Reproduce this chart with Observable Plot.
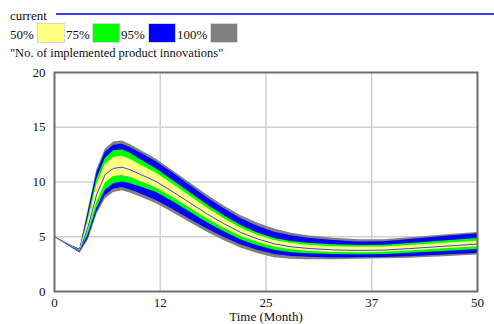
<!DOCTYPE html>
<html>
<head>
<meta charset="utf-8">
<script src="https://cdn.jsdelivr.net/npm/d3@7"></script>
<script src="https://cdn.jsdelivr.net/npm/@observablehq/plot@0.6"></script>
<style>
  html, body { margin: 0; padding: 0; background: #fff; }
  #wrap { position: relative; width: 494px; height: 324px; overflow: hidden; font-family: "Liberation Serif", serif; font-size: 13px; color: #111; }
  .t { position: absolute; white-space: nowrap; line-height: normal; }
  .sw { position: absolute; top: 23px; width: 26px; height: 18px; border: 1px solid #d8d8d8; }
  #chart { position: absolute; left: 0; top: 0; }
  #chart svg text { font-family: "Liberation Serif", serif; }
</style>
</head>
<body>
<div id="wrap">
  <div id="chart"></div>
  <div class="t" style="left:10px; top:8px;">current</div>
  <div style="position:absolute; left:56px; top:13px; width:438px; height:2px; background:#3c3cff;"></div>
  <div class="t" style="left:10px; top:27px;">50%</div>
  <div class="sw" style="left:37px; background:#ffff80;"></div>
  <div class="t" style="left:66px; top:27px;">75%</div>
  <div class="sw" style="left:92px; background:#00ff00;"></div>
  <div class="t" style="left:121px; top:27px;">95%</div>
  <div class="sw" style="left:148px; background:#0000ff;"></div>
  <div class="t" style="left:177px; top:27px;">100%</div>
  <div class="sw" style="left:210px; background:#808080;"></div>
  <div class="t" style="left:10px; top:46px; font-size:12.5px;">"No. of implemented product innovations"</div>
</div>
<script>
// Time points (months)
const months  = [0, 1, 2, 3, 4, 5, 6, 7, 8, 9, 10, 12, 14, 16, 18, 20, 22, 24, 26, 28, 30, 33, 36, 39, 42, 46, 50];
// 100% band (gray)
const grayTop = [5.00, 4.60, 4.20, 3.88, 7.50, 11.10, 13.00, 13.65, 13.75, 13.40, 12.97, 12.10, 11.03, 9.93, 8.84, 7.84, 6.94, 6.25, 5.71, 5.33, 5.09, 4.86, 4.72, 4.73, 4.90, 5.15, 5.38];
const grayBot = [5.00, 4.50, 4.00, 3.52, 4.70, 7.00, 8.45, 9.05, 9.20, 8.98, 8.67, 8.03, 7.20, 6.30, 5.43, 4.65, 3.97, 3.47, 3.09, 2.94, 2.91, 2.90, 2.95, 2.98, 3.04, 3.18, 3.33];
// 95% band (blue)
const blueTop = [5.00, 4.59, 4.18, 3.84, 7.25, 10.80, 12.70, 13.35, 13.45, 13.13, 12.72, 11.88, 10.82, 9.70, 8.59, 7.58, 6.66, 5.95, 5.42, 5.08, 4.86, 4.65, 4.52, 4.55, 4.75, 5.02, 5.28];
const blueBot = [5.00, 4.51, 4.02, 3.56, 4.90, 7.25, 8.75, 9.35, 9.50, 9.28, 8.97, 8.33, 7.50, 6.60, 5.72, 4.95, 4.28, 3.77, 3.38, 3.19, 3.12, 3.07, 3.08, 3.11, 3.18, 3.33, 3.48];
// 75% band (green)
const greenTop = [5.00, 4.58, 4.16, 3.79, 6.85, 10.25, 12.15, 12.85, 12.95, 12.60, 12.13, 11.20, 10.13, 9.03, 7.94, 6.94, 6.04, 5.35, 4.85, 4.57, 4.41, 4.27, 4.20, 4.23, 4.39, 4.62, 4.83];
const greenBot = [5.00, 4.52, 4.04, 3.61, 5.20, 7.60, 9.25, 9.85, 10.00, 9.85, 9.60, 9.06, 8.19, 7.25, 6.30, 5.47, 4.73, 4.18, 3.77, 3.55, 3.45, 3.37, 3.36, 3.39, 3.49, 3.66, 3.83];
// 50% band (yellow)
const yellowTop = [5.00, 4.57, 4.13, 3.75, 6.50, 9.75, 11.60, 12.25, 12.35, 12.05, 11.63, 10.82, 9.80, 8.72, 7.65, 6.67, 5.80, 5.13, 4.65, 4.38, 4.22, 4.09, 4.03, 4.06, 4.20, 4.40, 4.60];
const yellowBot = [5.00, 4.53, 4.07, 3.65, 5.55, 8.15, 9.90, 10.50, 10.60, 10.40, 10.10, 9.48, 8.58, 7.62, 6.66, 5.80, 5.04, 4.49, 4.06, 3.81, 3.68, 3.57, 3.55, 3.58, 3.70, 3.90, 4.08];
// "current" run
const current = [5.00, 4.55, 4.10, 3.70, 6.00, 8.90, 10.70, 11.25, 11.35, 11.10, 10.75, 10.05, 9.10, 8.10, 7.10, 6.20, 5.40, 4.80, 4.35, 4.08, 3.93, 3.80, 3.75, 3.78, 3.92, 4.13, 4.33];

// Axis ticks and labels
const xTicks = [0, 12.5, 25, 37.5, 50];
const xLabels = ["0", "12", "25", "37", "50"];
const yTicks = [0, 5, 10, 15, 20];

const rows = months.map((t, i) => ({
  t,
  gT: grayTop[i], gB: grayBot[i],
  bT: blueTop[i], bB: blueBot[i],
  nT: greenTop[i], nB: greenBot[i],
  yT: yellowTop[i], yB: yellowBot[i],
  c: current[i]
}));

const curve = "linear";
const serif = "'Liberation Serif', serif";
const chart = Plot.plot({
  width: 494,
  height: 324,
  marginLeft: 54,
  marginRight: 17,
  marginTop: 72,
  marginBottom: 33,
  x: {domain: [0, 50]},
  y: {domain: [0, 20]},
  style: {fontFamily: serif, fontSize: "13px", color: "#111", background: "transparent", overflow: "visible"},
  marks: [
    Plot.gridX(xTicks.slice(1, -1), {stroke: "#d2d2d2", strokeOpacity: 1, strokeWidth: 1.5}),
    Plot.gridY(yTicks.slice(1, -1), {stroke: "#d2d2d2", strokeOpacity: 1, strokeWidth: 1.5}),
    Plot.areaY(rows, {x: "t", y1: "gB", y2: "gT", fill: "#808080", curve}),
    Plot.areaY(rows, {x: "t", y1: "bB", y2: "bT", fill: "#0000ff", curve}),
    Plot.areaY(rows, {x: "t", y1: "nB", y2: "nT", fill: "#00ff00", curve}),
    Plot.areaY(rows, {x: "t", y1: "yB", y2: "yT", fill: "#ffff80", curve}),
    Plot.lineY(rows, {x: "t", y: "c", stroke: "#3c3cff", strokeWidth: 1, curve}),
    Plot.frame({stroke: "#6e6e6e", strokeWidth: 2}),
    Plot.axisY(yTicks, {tickSize: 0, tickPadding: 9, label: null, fill: "#111", fontFamily: serif}),
    Plot.axisX(xTicks, {tickSize: 0, tickPadding: 6, label: null, fill: "#111", fontFamily: serif, tickFormat: (d) => xLabels[xTicks.indexOf(d)]}),
    Plot.text(["Time (Month)"], {frameAnchor: "bottom", dy: 29, fill: "#111", fontSize: 13, fontFamily: serif})
  ]
});
document.getElementById("chart").appendChild(chart);
</script>
</body>
</html>
